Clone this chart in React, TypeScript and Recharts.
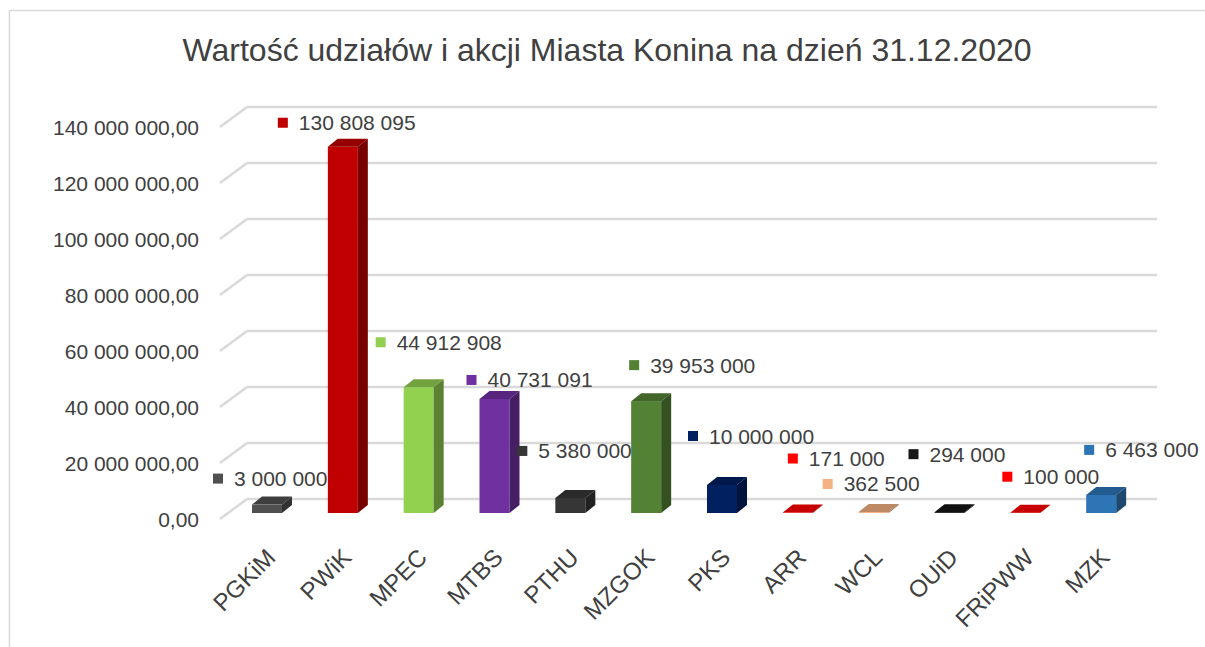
import React from 'react';
import { BarChart, Bar, XAxis, YAxis, CartesianGrid, LabelList } from 'recharts';

const categories = ['PGKiM', 'PWiK', 'MPEC', 'MTBS', 'PTHU', 'MZGOK', 'PKS', 'ARR', 'WCL', 'OUiD', 'FRiPWW', 'MZK'];
const values = [3000000, 130808095, 44912908, 40731091, 5380000, 39953000, 10000000, 171000, 362500, 294000, 100000, 6463000];
const colors = ['#505050', '#c00000', '#92d050', '#7030a0', '#363636', '#548235', '#002060', '#ff0000', '#f4b183', '#161616', '#ff0000', '#2e75b6'];
const yTicks = [0, 20000000, 40000000, 60000000, 80000000, 100000000, 120000000, 140000000];
// label placement (offset of the marker from bar centre / bar top)
const labelOffsets: [number, number][] = [
  [-49, -26], [-60, -24], [-38, -45], [-23, -19], [-48, -47], [-12, -36],
  [-29, -49], [-5, -54], [-46, -28], [-36, -58], [-18, -36], [-12, -45],
];

const data = categories.map((name, i) => ({ name, value: values[i], color: colors[i] }));

const FONT = 'Liberation Sans, Arial, sans-serif';
const TXT = '#404040';
const GRID = '#d9d9d9';
const DX = 10;
const DY = 8;

function shade(hex: string, f: number) {
  const n = parseInt(hex.slice(1), 16);
  const r = Math.round(((n >> 16) & 255) * f);
  const g = Math.round(((n >> 8) & 255) * f);
  const b = Math.round((n & 255) * f);
  return `rgb(${r},${g},${b})`;
}

const fmtVal = (v: number) => Math.round(v).toString().replace(/\B(?=(\d{3})+(?!\d))/g, ' ');
const fmtAxis = (v: number) => fmtVal(v) + ',00';

const Bar3D = (props: any) => {
  const { x, y, width, height, payload } = props;
  const c = payload.color;
  const h = Math.max(height, 0);
  return (
    <g>
      <rect x={x} y={y} width={width} height={h} fill={c} />
      <polygon
        points={`${x},${y} ${x + DX},${y - DY} ${x + width + DX},${y - DY} ${x + width},${y}`}
        fill={shade(c, 0.78)}
      />
      <polygon
        points={`${x + width},${y} ${x + width + DX},${y - DY} ${x + width + DX},${y + h - DY} ${x + width},${y + h}`}
        fill={shade(c, 0.62)}
      />
    </g>
  );
};

const renderLabel = (props: any) => {
  const vb = props.viewBox || {};
  const x = props.x ?? vb.x;
  const y = props.y ?? vb.y;
  const width = props.width ?? vb.width;
  const index = props.index;
  const cx = x + width / 2;
  const [dx, dy] = labelOffsets[index];
  const sx = cx + dx;
  const sy = y + dy;
  return (
    <g key={`lbl-${index}`}>
      <rect x={sx - 5} y={sy - 5} width={10} height={10} fill={colors[index]} />
      <text x={sx + 16} y={sy} dominantBaseline="central" fontSize={21} fontFamily={FONT} fill={TXT}>
        {fmtVal(values[index])}
      </text>
    </g>
  );
};

const XTick = (props: any) => {
  const { x, y, payload } = props;
  const ax = x + 4;
  const ay = y + 40;
  return (
    <text
      x={ax}
      y={ay}
      transform={`rotate(-45, ${ax}, ${ay})`}
      textAnchor="end"
      dominantBaseline="central"
      fontSize={24}
      fontFamily={FONT}
      fill={TXT}
    >
      {payload.value}
    </text>
  );
};

const YTick = (props: any) => {
  const { x, y, payload } = props;
  return (
    <text x={x - 30} y={y + 6} textAnchor="end" dominantBaseline="central" fontSize={21} fontFamily={FONT} fill={TXT}>
      {fmtAxis(payload.value)}
    </text>
  );
};

const GridLine = (p: any) => {
  const y = p.y1;
  return (
    <g key={`grid-${y}`}>
      <line x1={247} y1={y - 14} x2={1157} y2={y - 14} stroke={GRID} strokeWidth={2.5} />
      <line x1={220} y1={y + 6} x2={247} y2={y - 14} stroke={GRID} strokeWidth={2.5} />
    </g>
  );
};

export default function App() {
  return (
    <div style={{ position: 'absolute', left: 0, top: 0, width: 1205, height: 647, background: '#fff' }}>
      <svg width={1205} height={647} style={{ position: 'absolute', left: 0, top: 0 }}>
        <line x1={9.5} y1={10} x2={9.5} y2={647} stroke={GRID} strokeWidth={1.5} />
        <line x1={9} y1={10.5} x2={1205} y2={10.5} stroke={GRID} strokeWidth={1.5} />
        <text x={607} y={61} textAnchor="middle" fontSize={32} fontFamily={FONT} fill={TXT}>
          Wartość udziałów i akcji Miasta Konina na dzień 31.12.2020
        </text>
      </svg>
      <div style={{ position: 'absolute', left: 0, top: 0 }}>
        <BarChart width={1205} height={647} data={data} margin={{ top: 121, right: 66, bottom: 0, left: 0 }}>
          <CartesianGrid vertical={false} horizontal={GridLine} />
          <XAxis
            dataKey="name"
            height={134}
            axisLine={false}
            tickLine={false}
            tickSize={0}
            tickMargin={0}
            interval={0}
            tick={XTick}
          />
          <YAxis
            width={229}
            domain={[0, 140000000]}
            ticks={yTicks}
            interval={0}
            axisLine={false}
            tickLine={false}
            tickSize={0}
            tickMargin={0}
            tick={YTick}
          />
          <Bar dataKey="value" barSize={30} shape={Bar3D} isAnimationActive={false}>
            <LabelList dataKey="value" content={renderLabel} />
          </Bar>
        </BarChart>
      </div>
    </div>
  );
}
